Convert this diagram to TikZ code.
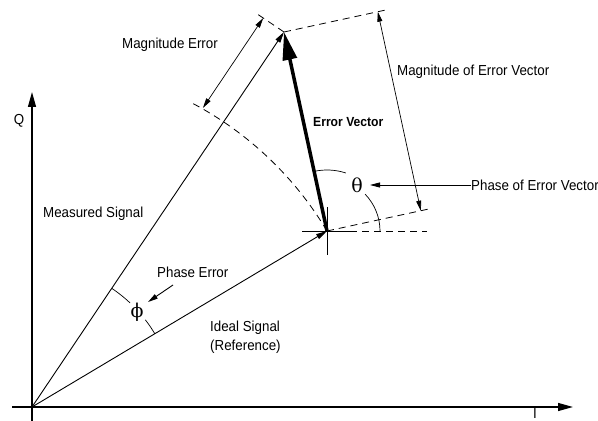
\documentclass[tikz,border=0pt]{standalone}
\usepackage{fontspec}
\setmainfont[FakeStretch=0.92]{Liberation Sans}
\newfontfamily\greekserif{DejaVu Serif}
\usetikzlibrary{arrows.meta, positioning}

\begin{document}
\begin{tikzpicture}[x=1pt, y=1pt,
label/.style={font=\fontsize{14.5}{19}\selectfont, inner sep=0pt},
greek/.style={font=\greekserif\fontsize{19}{22}\selectfont, inner sep=0pt},
axis/.style={line width=1.3pt, -{Triangle[length=15pt,width=8pt]}},
signal/.style={line width=0.9pt, -{Triangle[length=11pt,width=5.5pt]}},
errvec/.style={line width=3.5pt, -{Triangle[length=28pt,width=14pt]}},
dim/.style={line width=0.7pt,
  {Triangle[length=10pt,width=5pt]}-{Triangle[length=10pt,width=5pt]}},
pointer/.style={line width=0.9pt, -{Triangle[length=10pt,width=5pt]}},
guide/.style={line width=0.8pt, dash pattern=on 7pt off 5pt},
thin/.style={line width=0.7pt}]

\useasboundingbox (0,0) rectangle (598,421);

\coordinate (O) at (32,14);
\coordinate (P) at (327,190);
\coordinate (M) at (284,389);
\coordinate (Istart) at (12,14);
\coordinate (Iend) at (573,14);
\coordinate (Qstart) at (32,0);
\coordinate (Qend) at (32,329);

% axes
\draw[axis] (Istart) -- (Iend);
\draw[axis] (Qstart) -- (Qend);
\node[label] (qlab) at (19,300) {Q};
\node[label, anchor=north] (ilab) at (535,12.5) {I};

% guide lines
\coordinate (mtick) at (255,408.5);
\coordinate (mperp) at (389.5,411.8);
\coordinate (pperp) at (432.5,212.8);
\draw[guide] (P) arc[start angle=30.82, end angle=62, radius=343.5pt];
\draw[guide] (M) -- (mtick);
\draw[guide] (M) -- (mperp);
\draw[guide] (P) -- (pperp);
\draw[guide] (350,190) -- (427,190);
\draw[thin] (302,190) -- (350,190);
\draw[thin] (327,166) -- (327,214);

% vectors
\draw[signal] (O) -- (P);
\draw[signal] (O) -- (M);
\draw[errvec] (P) -- (M);

% dimensions
\coordinate (magA) at (263.2,402.9);
\coordinate (magB) at (202.9,313);
\coordinate (vecA) at (377.8,409.3);
\coordinate (vecB) at (420.8,210.3);
\draw[dim] (magA) -- (magB);
\draw[dim] (vecA) -- (vecB);

% angles
\node[greek] (theta) at (357,236) {θ};
\node[greek] (phi) at (137,109) {ϕ};
\draw[thin] (P) ++(0:53pt) arc[start angle=0, end angle=44, radius=53pt];
\draw[thin] (P) ++(72:61pt) arc[start angle=72, end angle=102.2, radius=61pt];
\draw[thin] (O) ++(30.8:143pt) arc[start angle=30.8, end angle=37.6, radius=143pt];
\draw[thin] (O) ++(46.7:143pt) arc[start angle=46.7, end angle=56.1, radius=143pt];

% labels
\node[label, anchor=east] (magerr) at (218,376) {Magnitude Error};
\node[label, anchor=west] (magvec) at (397,349) {Magnitude of Error Vector};
\node[label, anchor=west, font=\bfseries\fontsize{13.2}{16}\selectfont] (errlab)
    at (313,299) {Error Vector};
\node[label, anchor=west] (meas) at (43,207) {Measured Signal};
\node[label, anchor=west, align=left] (ideal) at (210,84) {Ideal Signal\\(Reference)};
\node[label, anchor=west] (phaselab) at (471,236) {Phase of Error Vector};
\node[label, anchor=west] (phaseerr) at (157,149) {Phase Error};

\coordinate (thetatip) at (370,236);
\coordinate (phitail) at (173,136);
\coordinate (phitip) at (148,119);
\draw[pointer] (phaselab.west) -- (thetatip);
\draw[pointer] (phitail) -- (phitip);
\end{tikzpicture}
\end{document}
